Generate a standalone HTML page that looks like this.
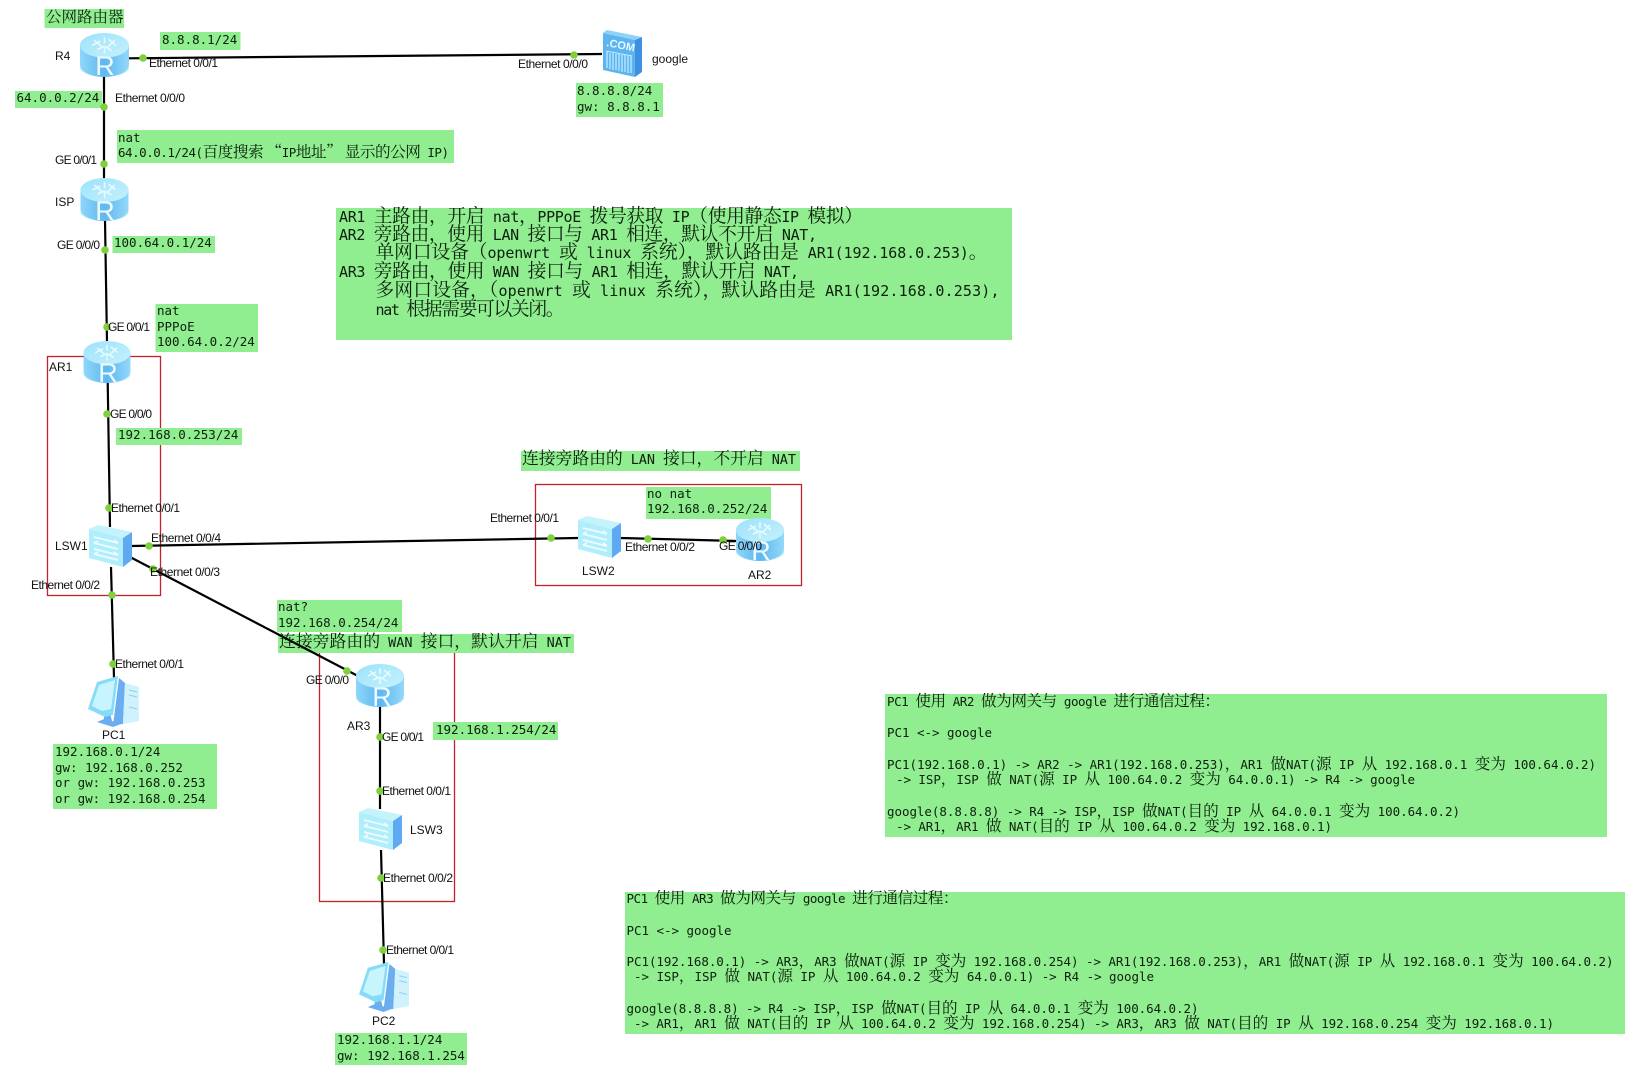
<!DOCTYPE html>
<html lang="zh"><head><meta charset="utf-8"><title>Network diagram</title>
<style>
html,body{margin:0;padding:0;background:#fff}
svg{display:block}
.g{fill:#90ee90}
.r{fill:none;stroke:#c4222b;stroke-width:1.3}
.l{stroke:#000;stroke-width:2.2;fill:none}
.d{fill:#7fd13b}
.t{font-family:"Liberation Sans",sans-serif;font-size:12px;fill:#111}
.m{font-family:"DejaVu Sans Mono","Liberation Mono","Noto Serif CJK SC",monospace;font-size:12.5px;fill:#0c200c}
.b{font-size:15px}
.h{font-size:13.5px}
.c{font-family:"Noto Serif CJK SC","Noto Sans CJK SC",serif;font-size:1.25em}
.R{font-family:"Liberation Sans",sans-serif;font-size:27px;fill:#eefaff;text-anchor:middle}
</style></head><body>
<svg width="1646" height="1077" viewBox="0 0 1646 1077" xmlns="http://www.w3.org/2000/svg">
<defs>
<linearGradient id="rb" x1="0" x2="1" y1="0" y2="0"><stop offset="0" stop-color="#8fd6f9"/><stop offset=".5" stop-color="#5fb8f0"/><stop offset="1" stop-color="#93d8f9"/></linearGradient>
<linearGradient id="rt" x1="0" x2="1" y1="0" y2="1"><stop offset="0" stop-color="#9ce2fb"/><stop offset="1" stop-color="#c6f1fd"/></linearGradient>
<symbol id="router" viewBox="0 0 48 43" overflow="visible">
<path d="M0 12V31C0 38 11 43 24 43S48 38 48 31V12Z" fill="url(#rb)"/>
<path d="M0 31C0 38 11 43 24 43S48 38 48 31V34C48 39 36 43 24 43S0 39 0 34Z" fill="#bdeafc"/>
<ellipse cx="24" cy="12" rx="24" ry="12" fill="url(#rt)"/>
<path d="M12 12L20 8M14 7L22 14M28 6L35 12M34 7L27 14M24 4V10M24 14V20M17 16L24 13M31 17L24 13" stroke="#e9fbff" stroke-width="1.5" fill="none"/>
</symbol>
<symbol id="switch" viewBox="0 0 44 43" overflow="visible">
<polygon points="1,4 10,0 44,7 35,13" fill="#c5f3fc"/>
<polygon points="1,4 35,13 35,42 1,33" fill="#b0eefb"/>
<polygon points="35,13 44,7 44,35 35,42" fill="#5fa9f2"/>
<path d="M6 12L30 18M30 18L26 15M30 24L6 18M6 18L10 16M6 24L30 30M30 30L26 27M30 35L6 29M6 29L10 27" stroke="#eefcff" stroke-width="1.8" fill="none"/>
</symbol>
<symbol id="server" viewBox="0 0 40 47" overflow="visible">
<polygon points="1,3 5,0 40,7 33,10" fill="#8fd2f7"/>
<polygon points="1,3 33,10 33,47 1,40" fill="#5cb4f1"/>
<polygon points="33,10 40,7 40,42 33,47" fill="#3f8fe2"/>
<path d="M5 22V38M8 23V39M11 23V40M14 24V40M17 24V41M20 25V42M23 25V42M26 26V43M29 26V43" stroke="#c5eefc" stroke-width="1.2"/>
<path d="M4 21L30 26" stroke="#c5eefc" stroke-width="1"/>
</symbol>
<symbol id="pc" viewBox="0 0 52 50" overflow="visible">
<polygon points="32,1 38,6 36,47 26,48" fill="#6aaef0"/>
<polygon points="38,6 52,10 52,44 36,47" fill="#cff2fc"/>
<path d="M42 13L50 15M42 18L50 20M42 30L50 32" stroke="#8fd0f2" stroke-width="1"/>
<polygon points="17,36 23,36 25,44 34,47 26,50 10,45 17,42" fill="#6aaef0"/>
<polygon points="1,32 10,5 31,-1 26,38 18,40" fill="#86dcf8"/>
<polygon points="5,29 12,8 28,3 24,32 15,34" fill="#c8f4fd"/>
</symbol>
</defs>

<!-- red groups -->
<rect class="r" x="47.5" y="356.5" width="113" height="239"/>
<rect class="r" x="535.5" y="484.5" width="266" height="101"/>
<rect class="r" x="319.5" y="645.5" width="135" height="256"/>

<!-- green boxes -->
<rect class="g" x="44.5" y="9" width="79.5" height="19"/>
<rect class="g" x="160" y="32" width="80.5" height="18"/>
<rect class="g" x="576" y="83" width="87" height="34"/>
<rect class="g" x="15" y="91" width="87" height="17"/>
<rect class="g" x="117" y="130" width="337" height="33"/>
<rect class="g" x="112.5" y="236" width="102.5" height="17"/>
<rect class="g" x="155.5" y="304" width="102.5" height="48"/>
<rect class="g" x="336" y="208" width="676" height="132"/>
<rect class="g" x="116" y="428" width="126" height="17"/>
<rect class="g" x="521" y="451" width="279" height="20"/>
<rect class="g" x="646" y="487" width="125" height="32"/>
<rect class="g" x="277" y="600" width="125" height="32"/>
<rect class="g" x="278" y="634" width="296" height="19"/>
<rect class="g" x="433" y="722" width="125" height="18"/>
<rect class="g" x="53" y="744" width="164" height="65"/>
<rect class="g" x="335" y="1033" width="132" height="32"/>
<rect class="g" x="885" y="694" width="722" height="143"/>
<rect class="g" x="625" y="892" width="1000" height="142"/>

<!-- links -->
<line class="l" x1="128" y1="58.3" x2="602" y2="54"/>
<line class="l" x1="104" y1="75" x2="104" y2="180"/>
<line class="l" x1="105" y1="220" x2="107" y2="343"/>
<line class="l" x1="107.7" y1="382" x2="110" y2="527"/>
<line class="l" x1="131" y1="546" x2="578" y2="538"/>
<line class="l" x1="131" y1="557.5" x2="357" y2="675.5"/>
<line class="l" x1="111" y1="567" x2="114" y2="678"/>
<line class="l" x1="620" y1="538" x2="737" y2="541"/>
<line class="l" x1="380" y1="706" x2="380" y2="809"/>
<line class="l" x1="381" y1="850" x2="384" y2="964"/>

<!-- port dots -->
<g class="d">
<circle cx="143" cy="58" r="3.8"/><circle cx="574" cy="55" r="3.8"/>
<circle cx="104" cy="107" r="3.8"/><circle cx="104" cy="164" r="3.8"/>
<circle cx="105" cy="250" r="3.8"/><circle cx="107" cy="327" r="3.8"/>
<circle cx="107" cy="414" r="3.8"/><circle cx="109" cy="508" r="3.8"/>
<circle cx="149" cy="546" r="3.8"/><circle cx="153" cy="569" r="3.8"/>
<circle cx="112" cy="595" r="3.8"/><circle cx="113" cy="664" r="3.8"/>
<circle cx="347" cy="671" r="3.8"/><circle cx="551" cy="538" r="3.8"/>
<circle cx="648" cy="539" r="3.8"/><circle cx="723" cy="540" r="3.8"/>
<circle cx="380" cy="737" r="3.8"/><circle cx="380" cy="791" r="3.8"/>
<circle cx="381" cy="878" r="3.8"/><circle cx="383" cy="950" r="3.8"/>
</g>

<!-- devices -->
<use href="#router" x="80" y="33" width="49" height="44"/><text class="R" x="105" y="75">R</text>
<use href="#router" x="80" y="178" width="49" height="43"/><text class="R" x="105" y="220">R</text>
<use href="#router" x="83" y="341" width="48" height="42"/><text class="R" x="108" y="382">R</text>
<use href="#router" x="736" y="518" width="48" height="43"/><text class="R" x="761" y="560">R</text>
<use href="#router" x="356" y="664" width="48" height="43"/><text class="R" x="382" y="706">R</text>
<use href="#switch" x="88" y="525" width="44" height="43"/>
<use href="#switch" x="577" y="516" width="44" height="43"/>
<use href="#switch" x="358" y="808" width="44" height="43"/>
<use href="#server" x="602" y="30" width="40" height="47"/>
<text x="606" y="46" transform="rotate(11 606 46)" font-family="Liberation Sans,sans-serif" font-weight="bold" font-size="11" fill="#e8f9ff">.COM</text>
<use href="#pc" x="87" y="677" width="52" height="50"/>
<use href="#pc" x="358" y="963" width="51" height="49"/>

<!-- port labels -->
<text class="t" x="149" y="67" textLength="69">Ethernet 0/0/1</text>
<text class="t" x="518" y="68" textLength="70">Ethernet 0/0/0</text>
<text class="t" x="115" y="102" textLength="70">Ethernet 0/0/0</text>
<text class="t" x="55" y="164" textLength="42">GE 0/0/1</text>
<text class="t" x="57" y="249" textLength="43">GE 0/0/0</text>
<text class="t" x="108" y="331" textLength="42">GE 0/0/1</text>
<text class="t" x="110" y="418" textLength="42">GE 0/0/0</text>
<text class="t" x="111" y="512" textLength="69">Ethernet 0/0/1</text>
<text class="t" x="151" y="542" textLength="70">Ethernet 0/0/4</text>
<text class="t" x="150" y="576" textLength="70">Ethernet 0/0/3</text>
<text class="t" x="31" y="589" textLength="69">Ethernet 0/0/2</text>
<text class="t" x="115" y="668" textLength="69">Ethernet 0/0/1</text>
<text class="t" x="490" y="522" textLength="69">Ethernet 0/0/1</text>
<text class="t" x="625" y="551" textLength="70">Ethernet 0/0/2</text>
<text class="t" x="719" y="550" textLength="43">GE 0/0/0</text>
<text class="t" x="306" y="684" textLength="43">GE 0/0/0</text>
<text class="t" x="382" y="741" textLength="42">GE 0/0/1</text>
<text class="t" x="382" y="795" textLength="69">Ethernet 0/0/1</text>
<text class="t" x="383" y="882" textLength="70">Ethernet 0/0/2</text>
<text class="t" x="386" y="954" textLength="68">Ethernet 0/0/1</text>

<!-- device labels -->
<text class="t" x="55" y="60">R4</text>
<text class="t" x="55" y="206">ISP</text>
<text class="t" x="49" y="371">AR1</text>
<text class="t" x="55" y="550">LSW1</text>
<text class="t" x="102" y="739">PC1</text>
<text class="t" x="652" y="63">google</text>
<text class="t" x="582" y="575">LSW2</text>
<text class="t" x="748" y="579">AR2</text>
<text class="t" x="347" y="730">AR3</text>
<text class="t" x="410" y="834">LSW3</text>
<text class="t" x="372" y="1025">PC2</text>

<!-- note text -->
<text class="m" x="46" y="22"><tspan class="c" style="font-size:15.5px">公网路由器</tspan></text>
<text class="m" x="162" y="44">8.8.8.1/24</text>
<text class="m" x="577" y="95">8.8.8.8/24</text>
<text class="m" x="577" y="111">gw: 8.8.8.1</text>
<text class="m" x="16.5" y="102">64.0.0.2/24</text>
<text class="m" x="118" y="142">nat</text>
<text class="m" x="118" y="157" textLength="331">64.0.0.1/24(<tspan class="c">百度搜索 “</tspan>IP<tspan class="c">地址” 显示的公网</tspan> IP)</text>
<text class="m" x="114" y="247">100.64.0.1/24</text>
<text class="m" x="157" y="315">nat</text>
<text class="m" x="157" y="331">PPPoE</text>
<text class="m" x="157" y="346">100.64.0.2/24</text>
<text class="m" x="118" y="439">192.168.0.253/24</text>
<text class="m h" x="522" y="464" textLength="274"><tspan class="c">连接旁路由的</tspan> LAN <tspan class="c">接口，不开启</tspan> NAT</text>
<text class="m" x="647" y="498">no nat</text>
<text class="m" x="647" y="513">192.168.0.252/24</text>
<text class="m" x="278" y="611">nat?</text>
<text class="m" x="278" y="627">192.168.0.254/24</text>
<text class="m h" x="279" y="647" textLength="292"><tspan class="c">连接旁路由的</tspan> WAN <tspan class="c">接口，默认开启</tspan> NAT</text>
<text class="m" x="436" y="734">192.168.1.254/24</text>
<text class="m" x="55" y="756">192.168.0.1/24</text>
<text class="m" x="55" y="772">gw: 192.168.0.252</text>
<text class="m" x="55" y="787">or gw: 192.168.0.253</text>
<text class="m" x="55" y="803">or gw: 192.168.0.254</text>
<text class="m" x="337" y="1044">192.168.1.1/24</text>
<text class="m" x="337" y="1060">gw: 192.168.1.254</text>

<text class="m b" x="339" y="222" textLength="524">AR1 <tspan class="c">主路由，开启</tspan> nat<tspan class="c">，</tspan>PPPoE <tspan class="c">拨号获取</tspan> IP<tspan class="c">（使用静态</tspan>IP <tspan class="c">模拟）</tspan></text>
<text class="m b" x="339" y="240" textLength="478">AR2 <tspan class="c">旁路由，使用</tspan> LAN <tspan class="c">接口与</tspan> AR1 <tspan class="c">相连，默认不开启</tspan> NAT,</text>
<text class="m b" x="375.5" y="258" textLength="612"><tspan class="c">单网口设备（</tspan>openwrt <tspan class="c">或</tspan> linux <tspan class="c">系统），默认路由是</tspan> AR1(192.168.0.253)<tspan class="c">。</tspan></text>
<text class="m b" x="339" y="277" textLength="460">AR3 <tspan class="c">旁路由，使用</tspan> WAN <tspan class="c">接口与</tspan> AR1 <tspan class="c">相连，默认开启</tspan> NAT,</text>
<text class="m b" x="375.5" y="296" textLength="624"><tspan class="c">多网口设备，（</tspan>openwrt <tspan class="c">或</tspan> linux <tspan class="c">系统），默认路由是</tspan> AR1(192.168.0.253),</text>
<text class="m b" x="375.5" y="315" textLength="189">nat <tspan class="c">根据需要可以关闭。</tspan></text>

<text class="m" x="887" y="706" textLength="333">PC1 <tspan class="c">使用</tspan> AR2 <tspan class="c">做为网关与</tspan> google <tspan class="c">进行通信过程：</tspan></text>
<text class="m" x="887" y="737" textLength="105">PC1 &lt;-&gt; google</text>
<text class="m" x="887" y="769" textLength="709">PC1(192.168.0.1) -&gt; AR2 -&gt; AR1(192.168.0.253)<tspan class="c">，</tspan>AR1 <tspan class="c">做</tspan>NAT(<tspan class="c">源</tspan> IP <tspan class="c">从</tspan> 192.168.0.1 <tspan class="c">变为</tspan> 100.64.0.2)</text>
<text class="m" x="896" y="784" textLength="519">-&gt; ISP<tspan class="c">，</tspan>ISP <tspan class="c">做</tspan> NAT(<tspan class="c">源</tspan> IP <tspan class="c">从</tspan> 100.64.0.2 <tspan class="c">变为</tspan> 64.0.0.1) -&gt; R4 -&gt; google</text>
<text class="m" x="887" y="816" textLength="573">google(8.8.8.8) -&gt; R4 -&gt; ISP<tspan class="c">，</tspan>ISP <tspan class="c">做</tspan>NAT(<tspan class="c">目的</tspan> IP <tspan class="c">从</tspan> 64.0.0.1 <tspan class="c">变为</tspan> 100.64.0.2)</text>
<text class="m" x="896" y="831" textLength="436">-&gt; AR1<tspan class="c">，</tspan>AR1 <tspan class="c">做</tspan> NAT(<tspan class="c">目的</tspan> IP <tspan class="c">从</tspan> 100.64.0.2 <tspan class="c">变为</tspan> 192.168.0.1)</text>

<text class="m" x="626.5" y="903" textLength="332">PC1 <tspan class="c">使用</tspan> AR3 <tspan class="c">做为网关与</tspan> google <tspan class="c">进行通信过程：</tspan></text>
<text class="m" x="626.5" y="935" textLength="105">PC1 &lt;-&gt; google</text>
<text class="m" x="626.5" y="966" textLength="987">PC1(192.168.0.1) -&gt; AR3<tspan class="c">，</tspan>AR3 <tspan class="c">做</tspan>NAT(<tspan class="c">源</tspan> IP <tspan class="c">变为</tspan> 192.168.0.254) -&gt; AR1(192.168.0.253)<tspan class="c">，</tspan>AR1 <tspan class="c">做</tspan>NAT(<tspan class="c">源</tspan> IP <tspan class="c">从</tspan> 192.168.0.1 <tspan class="c">变为</tspan> 100.64.0.2)</text>
<text class="m" x="634" y="981" textLength="520">-&gt; ISP<tspan class="c">，</tspan>ISP <tspan class="c">做</tspan> NAT(<tspan class="c">源</tspan> IP <tspan class="c">从</tspan> 100.64.0.2 <tspan class="c">变为</tspan> 64.0.0.1) -&gt; R4 -&gt; google</text>
<text class="m" x="626.5" y="1013" textLength="572">google(8.8.8.8) -&gt; R4 -&gt; ISP<tspan class="c">，</tspan>ISP <tspan class="c">做</tspan>NAT(<tspan class="c">目的</tspan> IP <tspan class="c">从</tspan> 64.0.0.1 <tspan class="c">变为</tspan> 100.64.0.2)</text>
<text class="m" x="634" y="1028" textLength="920">-&gt; AR1<tspan class="c">，</tspan>AR1 <tspan class="c">做</tspan> NAT(<tspan class="c">目的</tspan> IP <tspan class="c">从</tspan> 100.64.0.2 <tspan class="c">变为</tspan> 192.168.0.254) -&gt; AR3<tspan class="c">，</tspan>AR3 <tspan class="c">做</tspan> NAT(<tspan class="c">目的</tspan> IP <tspan class="c">从</tspan> 192.168.0.254 <tspan class="c">变为</tspan> 192.168.0.1)</text>
</svg>
</body></html>
